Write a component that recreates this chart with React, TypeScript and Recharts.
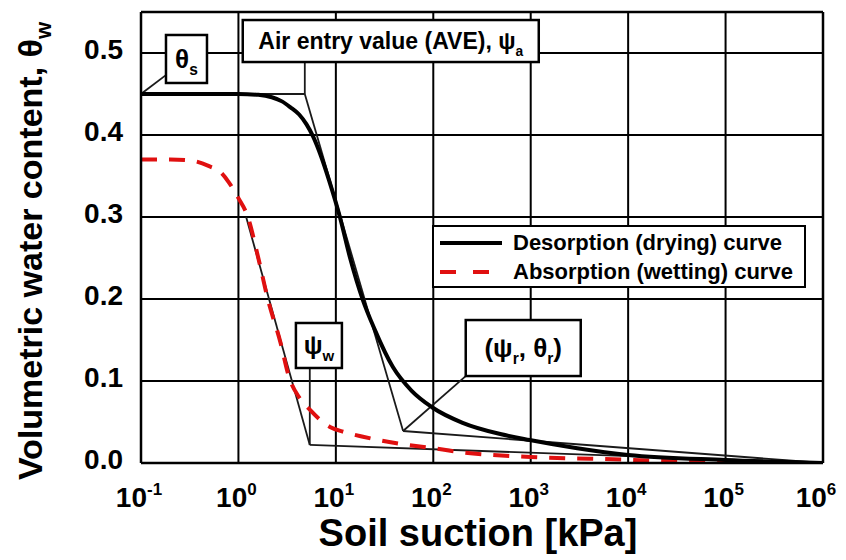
import React from 'react';
import { LineChart, Line, XAxis, YAxis, CartesianGrid, ReferenceLine, ReferenceDot, Legend } from 'recharts';

document.body.style.margin = '0';

const FONT = '"Liberation Sans", Arial, Helvetica, sans-serif';

// Desorption (drying) curve, suction in kPa vs volumetric water content
const dryingSuction = [0.1, 0.3, 1, 1.6, 2.2, 2.8, 3.4, 4.2, 5, 5.85, 7, 8.5, 11, 14, 18.9, 25, 38.5, 60, 97, 200, 500, 977, 3000, 1e4, 1e5, 1e6];
const dryingTheta = [0.45, 0.45, 0.45, 0.449, 0.446, 0.441, 0.434, 0.425, 0.413, 0.398, 0.375, 0.345, 0.3, 0.25, 0.199, 0.163, 0.117, 0.088, 0.068, 0.049, 0.035, 0.028, 0.018, 0.0098, 0.0037, 0];

// Absorption (wetting) curve
const wettingSuction = [0.1, 0.2, 0.32, 0.5, 0.65, 0.8, 1, 1.25, 1.6, 2, 2.7, 3.3, 4.2, 5.4, 7, 8.7, 12, 19, 42, 100, 200, 1000, 1e4, 3e4, 1e5];
const wettingTheta = [0.37, 0.37, 0.369, 0.362, 0.355, 0.342, 0.323, 0.3, 0.25, 0.2, 0.147, 0.105, 0.08, 0.065, 0.052, 0.044, 0.038, 0.032, 0.024, 0.018, 0.013, 0.0073, 0.004, 0.002, 0];

// construction lines (tangents) and pointers of the annotations
const aveFlat = [[0.1, 0.45], [4.8, 0.45]];
const aveTangent = [[4.8, 0.45], [49, 0.039]];
const dryingResidual = [[49, 0.039], [1e6, 0]];
const wettingTangent = [[1.2, 0.3], [5.4, 0.022]];
const wettingResidual = [[5.4, 0.022], [1e6, 0]];
const thetaSPointer = [[0.18, 0.473], [0.1, 0.45]];
const avePointer = [[4.8, 0.489], [4.8, 0.45]];
const psiWPointer = [[5.4, 0.116], [5.4, 0.022]];
const psiRPointer = [[215, 0.106], [49, 0.039]];

const xTicks = [0.1, 1, 10, 100, 1000, 1e4, 1e5, 1e6];
const xExponents = ['-1', '0', '1', '2', '3', '4', '5', '6'];
const yTicks = [0, 0.1, 0.2, 0.3, 0.4, 0.5];

const seriesNames = ['Desorption (drying) curve', 'Absorption (wetting) curve'];

const toPoints = (xs: number[], ys: number[]) => xs.map((x, i) => ({ x, y: ys[i] }));
const pairs = (p: number[][]) => p.map(([x, y]) => ({ x, y }));

const dryingData = toPoints(dryingSuction, dryingTheta);
const wettingData = toPoints(wettingSuction, wettingTheta);

const guides = [aveFlat, aveTangent, dryingResidual, wettingTangent, wettingResidual, thetaSPointer, avePointer, psiWPointer, psiRPointer];

// annotation boxes: anchor in data coords, size in px
const notes = [
  { x: 0.293, y: 0.4927, w: 41, h: 48, size: 26, parts: [['θ', 0], ['s', 1]] },
  { x: 36.6, y: 0.5146, w: 296, h: 42, size: 23, parts: [['Air entry value (AVE), ψ', 0], ['a', 1]] },
  { x: 6.7, y: 0.1433, w: 46, h: 45, size: 25, parts: [['ψ', 0], ['w', 1]] },
  { x: 838, y: 0.1402, w: 115, h: 56, size: 26, parts: [['(ψ', 0], ['r', 1], [', θ', 0], ['r', 1], [')', 0]] },
];

const XTick = (props: any) => {
  const { x, y, payload } = props;
  const i = xTicks.indexOf(payload.value);
  return (
    <text x={x - 2} y={y + 36} textAnchor="middle" fontFamily={FONT} fontWeight="bold" fontSize={28} fill="#000">
      <tspan>10</tspan>
      <tspan dy={-12} fontSize={17}>{xExponents[i]}</tspan>
    </text>
  );
};

const YTick = (props: any) => {
  const { x, y, payload } = props;
  return (
    <text x={x - 10} y={y + 6} textAnchor="end" fontFamily={FONT} fontWeight="bold" fontSize={28} fill="#000">
      {payload.value.toFixed(1)}
    </text>
  );
};

const NoteBox = (note: any) => (props: any) => {
  const { cx, cy } = props;
  let sub = false;
  return (
    <g>
      <rect x={cx - note.w / 2} y={cy - note.h / 2} width={note.w} height={note.h} fill="#fff" stroke="#000" strokeWidth={2.5} />
      <text x={cx} y={cy + note.size * 0.36} textAnchor="middle" fontFamily={FONT} fontWeight="bold" fontSize={note.size} fill="#000">
        {note.parts.map((p: any, k: number) => {
          const dy = p[1] && !sub ? 7 : !p[1] && sub ? -7 : 0;
          sub = !!p[1];
          return (
            <tspan key={k} dy={dy} fontSize={p[1] ? note.size * 0.6 : note.size}>{p[0]}</tspan>
          );
        })}
      </text>
    </g>
  );
};

const LegendBox = () => (
  <div style={{ border: '2.5px solid #000', background: '#fff', width: 374, height: 63, boxSizing: 'border-box', paddingTop: 1, fontFamily: FONT, fontWeight: 'bold', fontSize: 22, color: '#000' }}>
    {seriesNames.map((name, i) => (
      <div key={name} style={{ display: 'flex', alignItems: 'center', height: 29 }}>
        <svg width={70} height={10} style={{ marginLeft: 6, marginRight: 3 }}>
          <line x1={0} y1={5} x2={62} y2={5} stroke={i === 0 ? '#000' : '#e01010'} strokeWidth={4} strokeDasharray={i === 0 ? undefined : '16 17'} />
        </svg>
        <span style={{ whiteSpace: 'nowrap' }}>{name}</span>
      </div>
    ))}
  </div>
);

export default function App() {
  return (
    <div style={{ position: 'relative', width: 846, height: 560, background: '#fff' }}>
      <LineChart width={846} height={560} margin={{ top: 12, right: 23, bottom: 0, left: 0 }}>
        <CartesianGrid stroke="#000" strokeWidth={2} />
        <XAxis
          dataKey="x"
          type="number"
          scale="log"
          domain={[0.1, 1e6]}
          ticks={xTicks}
          allowDataOverflow
          height={97}
          axisLine={{ stroke: '#000', strokeWidth: 2.5 }}
          tickLine={false}
          tick={<XTick />}
          label={{ content: () => (
            <text x={478} y={546} textAnchor="middle" fontFamily={FONT} fontWeight="bold" fontSize={38} fill="#000">Soil suction [kPa]</text>
          ) }}
        />
        <YAxis
          type="number"
          domain={[0, 0.55]}
          ticks={yTicks}
          allowDataOverflow
          width={141}
          axisLine={{ stroke: '#000', strokeWidth: 2.5 }}
          tickLine={false}
          tick={<YTick />}
          label={{ content: () => (
            <text transform="translate(42,251) rotate(-90)" textAnchor="middle" fontFamily={FONT} fontWeight="bold" fontSize={34} fill="#000">
              Volumetric water content, θ<tspan dy={9} fontSize={22}>w</tspan>
            </text>
          ) }}
        />
        <ReferenceLine y={0.55} stroke="#000" strokeWidth={2.5} />
        <ReferenceLine x={1e6} stroke="#000" strokeWidth={2.5} />
        {guides.map((g, i) => (
          <Line key={`g${i}`} data={pairs(g)} dataKey="y" type="linear" stroke="#1a1a1a" strokeWidth={1.8} dot={false} legendType="none" isAnimationActive={false} />
        ))}
        <Line data={wettingData} dataKey="y" name={seriesNames[1]} type="monotone" stroke="#e01010" strokeWidth={4} strokeDasharray="16 12" dot={false} isAnimationActive={false} />
        <Line data={dryingData} dataKey="y" name={seriesNames[0]} type="monotone" stroke="#000" strokeWidth={4} dot={false} isAnimationActive={false} />
        {notes.map((n, i) => (
          <ReferenceDot key={`n${i}`} x={n.x} y={n.y} ifOverflow="visible" shape={NoteBox(n)} />
        ))}
        <Legend layout="vertical" align="center" verticalAlign="middle" content={<LegendBox />} wrapperStyle={{ left: 432, top: 225, width: 374, height: 63 }} />
      </LineChart>
    </div>
  );
}
